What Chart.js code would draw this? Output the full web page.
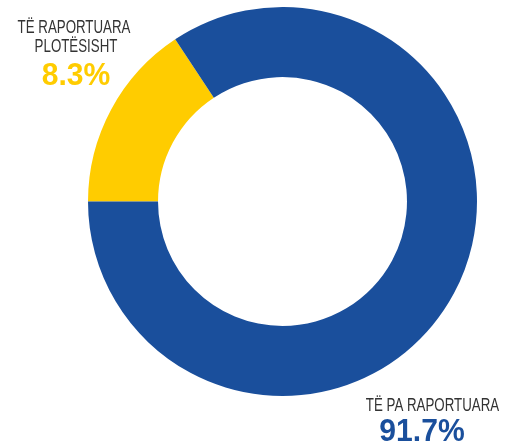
<!DOCTYPE html>
<html>
<head>
<meta charset="utf-8">
<script src="https://cdn.jsdelivr.net/npm/chart.js@4/dist/chart.umd.min.js"></script>
<style>
  html, body { margin: 0; padding: 0; background: #fff; }
  #wrap { position: relative; width: 505px; height: 443px; }
</style>
</head>
<body>
<div id="wrap"><canvas id="chart"></canvas></div>
<script>
const labels = ['TË RAPORTUARA PLOTËSISHT', 'TË PA RAPORTUARA'];
// slice shares as drawn in the picture (the yellow arc is wider than its printed value)
const sliceShares = [15.7, 84.3];
// percentages as printed on the picture
const printedPct = ['8.3%', '91.7%'];
const colors = ['#ffcc00', '#1a4f9c'];
const labelLines = [['TË RAPORTUARA', 'PLOTËSISHT'], ['TË PA RAPORTUARA']];

const font = "'Liberation Sans', Arial, sans-serif";

// condensed text: squeeze horizontally since no narrow font is installed
function squeezed(ctx, text, x, y, sx) {
  ctx.save();
  ctx.translate(x, y);
  ctx.scale(sx, 1);
  ctx.fillText(text, 0, 0);
  ctx.restore();
}

const outsideLabels = {
  id: 'outsideLabels',
  afterDraw(chart) {
    const ctx = chart.ctx;
    const pos = [
      { lines: [[74, 33], [76, 52]], pct: [76, 85] },
      { lines: [[432.5, 411]], pct: [422, 441] }
    ];
    ctx.save();
    ctx.textAlign = 'center';
    ctx.textBaseline = 'alphabetic';
    printedPct.forEach((txt, i) => {
      const p = pos[i];
      ctx.fillStyle = '#333333';
      ctx.font = '19px ' + font;
      labelLines[i].forEach((line, j) => squeezed(ctx, line, p.lines[j][0], p.lines[j][1], 0.7));
      ctx.fillStyle = colors[i];
      ctx.font = 'bold 32px ' + font;
      squeezed(ctx, txt, p.pct[0], p.pct[1], 0.94);
    });
    ctx.restore();
  }
};

const ctx = document.getElementById('chart').getContext('2d');
new Chart(ctx, {
  type: 'doughnut',
  data: {
    labels: labels,
    datasets: [{
      data: sliceShares,
      backgroundColor: colors,
      borderWidth: 0
    }]
  },
  options: {
    responsive: true,
    maintainAspectRatio: false,
    animation: false,
    rotation: 270,
    cutout: '64%',
    layout: { padding: { left: 88, right: 28, top: 7, bottom: 47 } },
    plugins: {
      legend: { display: false },
      tooltip: { enabled: false }
    }
  },
  plugins: [outsideLabels]
});
</script>
</body>
</html>
